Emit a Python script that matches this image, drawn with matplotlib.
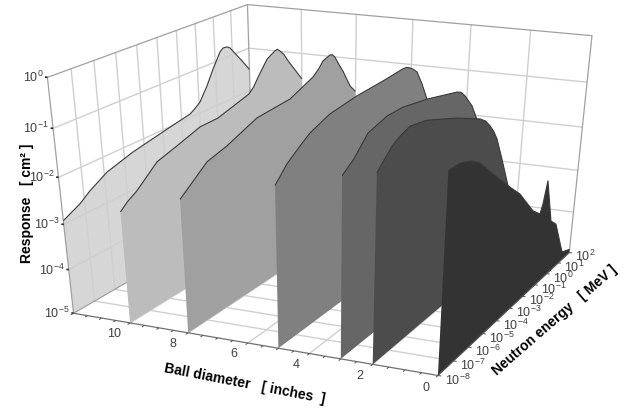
import numpy as np
import matplotlib
matplotlib.use('Agg')
import matplotlib.pyplot as plt
from mpl_toolkits.mplot3d import proj3d
from mpl_toolkits.mplot3d.art3d import Poly3DCollection, Line3DCollection

plt.rcParams['font.family'] = ['Liberation Sans', 'DejaVu Sans']
plt.rcParams['mathtext.fontset'] = 'custom'
plt.rcParams['mathtext.rm'] = 'Liberation Sans'
plt.rcParams['mathtext.default'] = 'regular'

W, H = 628, 410

# camera fitted to the box corners (data -> pixels)
P = np.array([[-2.8067699e+01, 2.3406801e+01, -6.2931468e+00, 5.6813574e+02],
              [-2.6524812e+00, -6.6592387e+00, -4.9957242e+01, 5.1418174e+01],
              [7.0926690e-03, 1.9403289e-02, -1.9362605e-02, 1.0]])

balls = [12, 10, 8, 5, 3, 2, 0]
greys = ['#d6d6d6', '#bcbcbc', '#a0a0a0', '#808080', '#666666', '#4c4c4c', '#333333']

# log10(energy / MeV) and log10(response / cm2) per ball diameter
loge_12 = [-8.0, -7.21, -6.71, -5.87, -4.57, -2.63, -1.53, -1.25, -0.95, -0.52, -0.14, 0.30, 0.48, 0.71, 0.88, 1.05, 1.57, 2.0]
logr_12 = [-2.92, -2.74, -2.57, -2.35, -2.18, -2.01, -1.92, -1.85, -1.75, -1.46, -1.14, -0.82, -0.76, -0.77, -0.82, -0.92, -1.23, -1.5]
loge_10 = [-8.0, -7.67, -7.19, -6.16, -5.16, -3.95, -2.99, -1.23, -0.95, -0.68, -0.13, 0.35, 0.50, 0.65, 0.88, 1.14, 2.0]
logr_10 = [-2.55, -2.42, -2.29, -1.90, -1.77, -1.60, -1.59, -1.38, -1.27, -1.10, -0.79, -0.68, -0.67, -0.73, -0.84, -1.03, -1.59]
loge_8 = [-8.0, -6.63, -5.61, -4.00, -2.13, -0.75, -0.40, -0.13, 0.31, 0.46, 0.62, 0.85, 1.15, 1.63, 2.0]
logr_8 = [-2.11, -1.64, -1.52, -1.25, -1.19, -0.95, -0.83, -0.70, -0.64, -0.66, -0.74, -0.92, -1.14, -1.56, -1.75]
loge_5 = [-8.0, -7.38, -6.69, -6.16, -5.06, -3.50, -1.91, -0.62, -0.38, -0.14, 0.10, 0.36, 0.75, 1.15, 2.0]
logr_5 = [-1.57, -1.28, -1.07, -0.92, -0.75, -0.67, -0.64, -0.60, -0.61, -0.66, -0.73, -0.83, -1.16, -1.57, -2.6]
loge_3 = [-8.0, -7.37, -6.61, -5.54, -4.59, -3.01, -1.03, -0.72, -0.42, 0.15, 0.51, 1.2, 2.0]
logr_3 = [-1.21, -1.02, -0.68, -0.56, -0.56, -0.68, -0.89, -0.95, -1.08, -1.40, -1.71, -2.4, -3.2]
loge_2 = [-8.0, -7.18, -6.74, -6.17, -5.14, -3.17, -1.51, -1.10, -0.71, -0.40, -0.09, 0.43, 1.11, 2.0]
logr_2 = [-1.07, -0.74, -0.64, -0.56, -0.64, -0.97, -1.30, -1.42, -1.60, -1.78, -2.01, -2.57, -3.34, -4.5]
loge_0 = [-8.0, -7.31, -6.55, -6.01, -5.06, -3.74, -2.92, -1.74, -1.11, -0.93, -0.68, -0.07, 0.42, 1.27, 2.0]
logr_0 = [-0.86, -0.87, -0.99, -1.14, -1.56, -2.12, -2.45, -3.09, -3.31, -3.12, -2.66, -3.72, -3.91, -4.80, -4.92]
curves = [(loge_12, logr_12), (loge_10, logr_10), (loge_8, logr_8), (loge_5, logr_5),
          (loge_3, logr_3), (loge_2, logr_2), (loge_0, logr_0)]

fig = plt.figure(figsize=(W/100, H/100), dpi=100)
ax = fig.add_axes([0, 0, 1, 1], projection='3d', computed_zorder=False)
ax.set_xlim(12, 0)
ax.set_ylim(-8, 2)
ax.set_zlim(-5, 0)
ax.set_xticks([])
ax.set_yticks([])
ax.set_zticks([])
ax.set_axis_off()
ax.viewLim.intervalx = (0, W)
ax.viewLim.intervaly = (0, H)
M = np.array([P[0], H*P[2]-P[1], [0, 1e-3, 0, 0], P[2]])
ax.get_proj = lambda: M
ax.apply_aspect = lambda position=None: None


def line3d(xs, ys, zs, color, lw, zorder):
    seg = list(zip(xs, ys, zs))
    ax.add_collection3d(Line3DCollection([seg], colors=color, linewidths=lw, zorder=zorder))


def label3d(x, y, z, s, ha):
    tx, ty, _ = proj3d.proj_transform(x, y, z, M)
    ax.text2D(tx/W, ty/H, s, transform=ax.transAxes, ha=ha, va='center', fontsize=9, color='#404040')


grid = '#cfcfcf'
edge = '#a0a0a0'

# curves
for k, (D, col, (es, zs)) in enumerate(zip(balls, greys, curves)):
    verts = [(D, e, z) for e, z in zip(es, zs)] + [(D, es[-1], -5), (D, es[0], -5)]
    zo = 0.5 if k == 0 else 3 + k
    ax.add_collection3d(Poly3DCollection([verts], facecolors=col, edgecolors='none', zorder=zo))
    line3d([D]*len(es), es, zs, '#3a3a3a', 0.8, zo + 0.1 if k else 2.5)

# walls and floor
for e in range(-7, 2):
    line3d([12, 12], [e, e], [-5, 0], grid, 1, 1)
    line3d([0, 12], [e, e], [-5, -5], grid, 1, 1)
for d in range(2, 12, 2):
    line3d([d, d], [2, 2], [-5, 0], grid, 1, 1)
    line3d([d, d], [-8, 2], [-5, -5], grid, 1, 1)
for z in range(-4, 0):
    line3d([12, 12], [-8, 2], [z, z], grid, 1, 1)
    line3d([0, 12], [2, 2], [z, z], grid, 1, 1)

# box edges
line3d([12, 12, 12, 0, 0], [-8, -8, 2, 2, 2], [-5, 0, 0, 0, -5], edge, 0.9, 2)
line3d([12, 12, 0], [-8, 2, 2], [-5, -5, -5], edge, 0.9, 2)
line3d([12, 12], [2, 2], [-5, 0], edge, 0.9, 2)
line3d([12, 0], [-8, -8], [-5, -5], '#707070', 0.9, 20)
line3d([0, 0], [-8, 2], [-5, -5], '#505050', 0.9, 20)

# ticks and tick labels
for z in range(-5, 1):
    line3d([12, 12.08], [-8, -8], [z, z], '#202020', 1.2, 20)
    label3d(12.14, -8, z, f'$10^{{{z}}}$', 'right')
for d in np.arange(0, 12.5, 0.5):
    line3d([d, d], [-8, -8.12], [-5, -5], '#505050', 0.7, 20)
for d in range(0, 11, 2):
    label3d(d, -8.75, -5, str(d), 'center')
for e in range(-8, 3):
    line3d([0, -0.1], [e, e], [-5, -5], '#505050', 0.7, 20)
    label3d(-0.22, e, -5.06, f'$10^{{{e}}}$', 'left')

# axis titles
fig.text(27/W, 1-203/H, 'Response   [ cm\u00b2 ]', rotation=90, ha='center', va='center', fontsize=10, fontweight='bold', color='black')
fig.text(245/W, 1-384/H, 'Ball diameter   [ inches  ]', rotation=-11, ha='center', va='center', fontsize=10, fontweight='bold', color='black')
fig.text(555/W, 1-320/H, 'Neutron energy   [ MeV ]', rotation=41, ha='center', va='center', fontsize=10, fontweight='bold', color='black')

fig.savefig('out.png', dpi=100)
